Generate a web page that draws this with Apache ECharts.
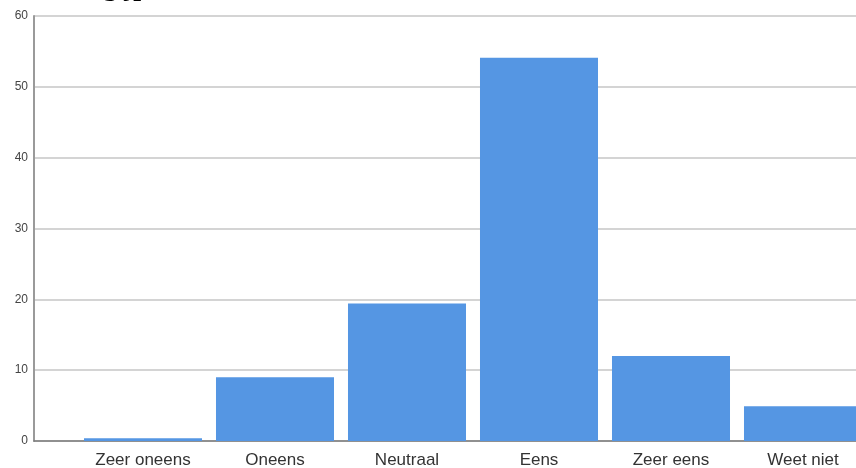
<!DOCTYPE html>
<html>
<head>
<meta charset="utf-8">
<script src="https://cdn.jsdelivr.net/npm/echarts@6/dist/echarts.min.js"></script>
<style>html,body{margin:0;padding:0;background:#fff;}#c{width:856px;height:468px;}</style>
</head>
<body>
<div id="c"></div>
<script>
const categories = ['Zeer oneens', 'Oneens', 'Neutraal', 'Eens', 'Zeer eens', 'Weet niet'];
const values = [0.4, 9.0, 19.4, 54.1, 12.0, 4.9];
const yTicks = [0, 10, 20, 30, 40, 50, 60];
const titleText = 'g jp';

const chart = echarts.init(document.getElementById('c'), null, {renderer: 'canvas'});
const yMin = yTicks[0], yMax = yTicks[yTicks.length - 1], yStep = yTicks[1] - yTicks[0];
chart.setOption({
  animation: false,
  backgroundColor: '#ffffff',
  graphic: [{
    type: 'text', x: 103, y: -12, z: 100,
    style: {text: titleText, font: 'bold 28px "Liberation Serif", serif', fill: '#000',
            textVerticalAlign: 'middle', verticalAlign: 'middle'}
  }],
  grid: [
    {left: 34, right: 0, top: 16, bottom: 27, containLabel: false, outerBoundsMode: 'none'},
    {left: 77, width: 792, top: 16, bottom: 27, containLabel: false, outerBoundsMode: 'none'}
  ],
  xAxis: [
    {gridIndex: 0, type: 'value', min: 0, max: 1, axisLabel: {show: false}, axisTick: {show: false},
     splitLine: {show: false}, axisLine: {show: true, lineStyle: {color: '#7a7a7a', width: 1.5}}},
    {gridIndex: 1, type: 'category', data: categories, boundaryGap: true,
     axisLine: {show: false}, axisTick: {show: false},
     axisLabel: {color: '#333', fontSize: 17, fontFamily: '"Liberation Sans", Arial, sans-serif', margin: 11, interval: 0}}
  ],
  yAxis: [
    {gridIndex: 0, type: 'value', min: yMin, max: yMax, interval: yStep,
     axisLine: {show: true, lineStyle: {color: '#9a9a9a', width: 2}},
     axisTick: {show: false},
     axisLabel: {color: '#444', fontSize: 12, fontFamily: '"Liberation Sans", Arial, sans-serif', margin: 6,
                 padding: [2, 0, 0, 0]},
     splitLine: {show: true, lineStyle: {color: '#d4d4d4', width: 2}}},
    {gridIndex: 1, type: 'value', min: yMin, max: yMax, interval: yStep, show: false,
     splitLine: {show: false}}
  ],
  series: [{
    type: 'bar', xAxisIndex: 1, yAxisIndex: 1, data: values,
    barCategoryGap: '10.6%',
    itemStyle: {color: '#5596e3'}
  }]
});
</script>
</body>
</html>
